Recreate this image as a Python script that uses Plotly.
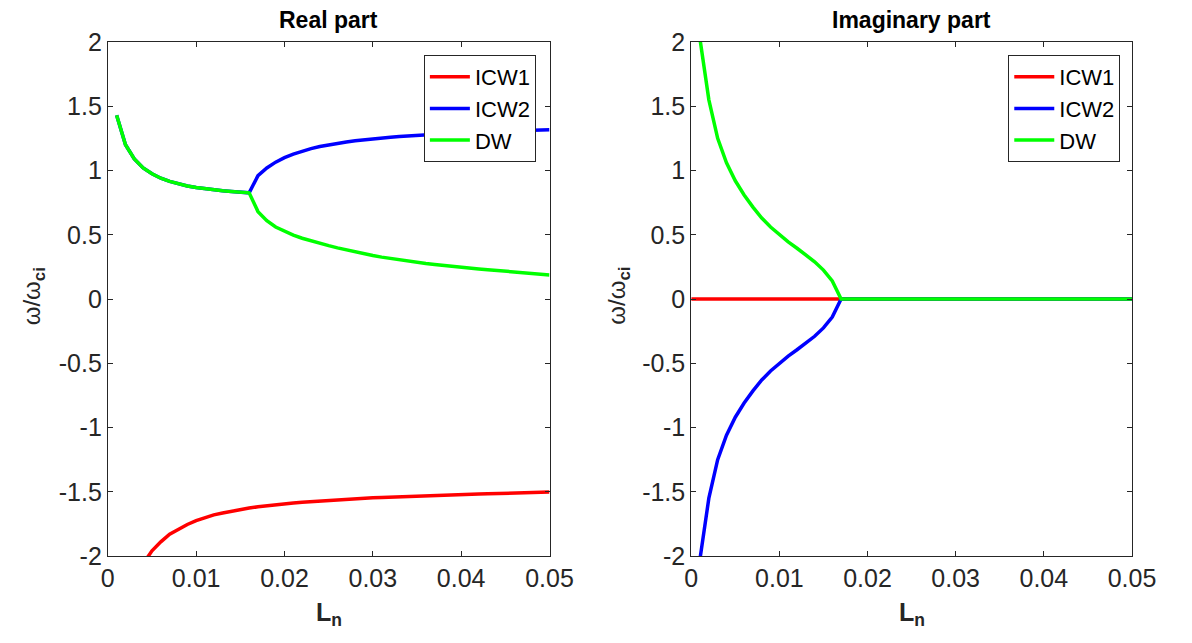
import plotly.graph_objects as go

# ---------------- data ----------------
Ln = [0.0, 0.001, 0.002, 0.003, 0.004, 0.005, 0.006, 0.007, 0.008, 0.009, 0.010,
      0.011, 0.012, 0.013, 0.014, 0.015, 0.016, 0.017, 0.018, 0.019, 0.020,
      0.021, 0.022, 0.023, 0.024, 0.025, 0.026, 0.027, 0.028, 0.029, 0.030,
      0.031, 0.032, 0.033, 0.034, 0.035, 0.036, 0.037, 0.038, 0.039, 0.040,
      0.041, 0.042, 0.043, 0.044, 0.045, 0.046, 0.047, 0.048, 0.049, 0.050]

# Real part (undefined at Ln = 0)
icw1_re = [None, -3.6, -2.7, -2.35, -2.06, -1.96, -1.89, -1.83, -1.79, -1.755, -1.725,
           -1.70, -1.68, -1.665, -1.65, -1.638, -1.627, -1.617, -1.608, -1.60, -1.593,
           -1.587, -1.581, -1.576, -1.571, -1.566, -1.562, -1.558, -1.554, -1.55, -1.547,
           -1.544, -1.541, -1.538, -1.535, -1.533, -1.53, -1.528, -1.526, -1.524, -1.522,
           -1.52, -1.518, -1.516, -1.514, -1.512, -1.51, -1.508, -1.506, -1.504, -1.502]
icw2_re = [None, 1.43, 1.20, 1.09, 1.02, 0.975, 0.94, 0.915, 0.895, 0.88, 0.868,
           0.858, 0.85, 0.843, 0.837, 0.831, 0.826, 0.96, 1.02, 1.065, 1.10,
           1.127, 1.15, 1.17, 1.187, 1.20, 1.212, 1.222, 1.231, 1.239, 1.246,
           1.253, 1.259, 1.264, 1.269, 1.274, 1.278, 1.282, 1.286, 1.29, 1.293,
           1.296, 1.299, 1.302, 1.305, 1.308, 1.31, 1.312, 1.314, 1.316, 1.318]
dw_re = [None, 1.43, 1.20, 1.09, 1.02, 0.975, 0.94, 0.915, 0.895, 0.88, 0.868,
         0.858, 0.85, 0.843, 0.837, 0.831, 0.826, 0.68, 0.61, 0.56, 0.525,
         0.497, 0.473, 0.452, 0.433, 0.415, 0.398, 0.382, 0.367, 0.352, 0.338,
         0.326, 0.315, 0.305, 0.295, 0.286, 0.277, 0.269, 0.261, 0.254, 0.247,
         0.240, 0.234, 0.228, 0.222, 0.216, 0.210, 0.205, 0.200, 0.194, 0.187]

# Imaginary part
icw1_im = [0.0, 0.0, 0.0, 0.0, 0.0, 0.0, 0.0, 0.0, 0.0, 0.0, 0.0,
           0.0, 0.0, 0.0, 0.0, 0.0, 0.0, 0.0, 0.0, 0.0, 0.0,
           0.0, 0.0, 0.0, 0.0, 0.0, 0.0, 0.0, 0.0, 0.0, 0.0,
           0.0, 0.0, 0.0, 0.0, 0.0, 0.0, 0.0, 0.0, 0.0, 0.0,
           0.0, 0.0, 0.0, 0.0, 0.0, 0.0, 0.0, 0.0, 0.0, 0.0]
icw2_im = [None, -2.02, -1.55, -1.25, -1.06, -0.92, -0.81, -0.715, -0.63, -0.56, -0.50,
           -0.445, -0.395, -0.345, -0.29, -0.225, -0.14, 0.0, 0.0, 0.0, 0.0,
           0.0, 0.0, 0.0, 0.0, 0.0, 0.0, 0.0, 0.0, 0.0, 0.0,
           0.0, 0.0, 0.0, 0.0, 0.0, 0.0, 0.0, 0.0, 0.0, 0.0,
           0.0, 0.0, 0.0, 0.0, 0.0, 0.0, 0.0, 0.0, 0.0, 0.0]
dw_im = [None, 2.02, 1.55, 1.25, 1.06, 0.92, 0.81, 0.715, 0.63, 0.56, 0.50,
         0.445, 0.395, 0.345, 0.29, 0.225, 0.14, 0.0, 0.0, 0.0, 0.0,
         0.0, 0.0, 0.0, 0.0, 0.0, 0.0, 0.0, 0.0, 0.0, 0.0,
         0.0, 0.0, 0.0, 0.0, 0.0, 0.0, 0.0, 0.0, 0.0, 0.0,
         0.0, 0.0, 0.0, 0.0, 0.0, 0.0, 0.0, 0.0, 0.0, 0.0]

series_names = ["ICW1", "ICW2", "DW"]
series_colors = ["#ff0000", "#0000ff", "#00ff00"]

x_tickvals = [0, 0.01, 0.02, 0.03, 0.04, 0.05]
x_ticktext = ["0", "0.01", "0.02", "0.03", "0.04", "0.05"]
y_tickvals = [-2, -1.5, -1, -0.5, 0, 0.5, 1, 1.5, 2]
y_ticktext = ["-2", "-1.5", "-1", "-0.5", "0", "0.5", "1", "1.5", "2"]

panel_titles = ["Real part", "Imaginary part"]

# ---------------- figure ----------------
FONT = "Liberation Sans, Arial, Helvetica, sans-serif"
AX = "#262626"
W, H = 1192, 643
T, B = 42, 87

fig = go.Figure()

panels = [
    (icw1_re, icw2_re, dw_re, "x", "y", "legend"),
    (icw1_im, icw2_im, dw_im, "x2", "y2", "legend2"),
]
for pi, (a, b, c, xa, ya, lg) in enumerate(panels):
    for si, (vals, name, col) in enumerate(zip([a, b, c], series_names, series_colors)):
        fig.add_trace(go.Scatter(
            x=Ln, y=vals, mode="lines", name=name,
            line=dict(color=col, width=3.5),
            connectgaps=False,
            xaxis=xa, yaxis=ya, legend=lg,
        ))

axis_common = dict(
    showline=True, linecolor=AX, linewidth=1, mirror="ticks",
    ticks="inside", ticklen=5, tickcolor=AX, tickwidth=1,
    showgrid=False, zeroline=False,
    tickfont=dict(family=FONT, size=25, color=AX),
)

x_domains = [[103.5 / W, 557 / W], [702.5 / W, 1155 / W]]

fig.update_layout(
    width=W, height=H,
    margin=dict(l=0, r=0, t=T, b=B),
    paper_bgcolor="white", plot_bgcolor="white",
    font=dict(family=FONT, color=AX),
    xaxis=dict(domain=x_domains[0], range=[0, 0.05], tickvals=x_tickvals,
               ticktext=x_ticktext, anchor="y", **axis_common),
    yaxis=dict(domain=[0, 1], range=[-2, 2], tickvals=y_tickvals,
               ticktext=y_ticktext, anchor="x", **axis_common),
    xaxis2=dict(domain=x_domains[1], range=[0, 0.05], tickvals=x_tickvals,
                ticktext=x_ticktext, anchor="y2", **axis_common),
    yaxis2=dict(domain=[0, 1], range=[-2, 2], tickvals=y_tickvals,
                ticktext=y_ticktext, anchor="x2", **axis_common),
)

plot_h = H - T - B
def py(pix):
    return (H - B - pix) / plot_h

legend_common = dict(
    bgcolor="white", bordercolor=AX, borderwidth=1,
    font=dict(family=FONT, size=22, color="black"),
    xanchor="right", yanchor="top",
    itemwidth=40, itemclick=False, itemdoubleclick=False,
)
fig.update_layout(
    legend=dict(x=543 / W, y=py(55), **legend_common),
    legend2=dict(x=1143 / W, y=py(55), **legend_common),
)

annotations = []
for i, t in enumerate(panel_titles):
    cx = sum(x_domains[i]) / 2
    annotations.append(dict(
        text=f"<b>{t}</b>", x=cx, y=py(20), xref="paper", yref="paper",
        xanchor="center", yanchor="middle", showarrow=False,
        font=dict(family=FONT, size=23, color="black")))
    annotations.append(dict(
        text="<b>L<sub>n</sub></b>", x=cx, y=py(614), xref="paper", yref="paper",
        xanchor="center", yanchor="middle", showarrow=False,
        font=dict(family=FONT, size=25, color=AX)))
y_title_x = [27 / W, 627 / W]
for xx in y_title_x:
    annotations.append(dict(
        text="ω/ω<sub><b>ci</b></sub>", x=xx, y=py(296), xref="paper", yref="paper",
        xanchor="center", yanchor="middle", showarrow=False, textangle=-90,
        font=dict(family=FONT, size=24, color=AX)))
fig.update_layout(annotations=annotations)

fig.write_html("out.html")
